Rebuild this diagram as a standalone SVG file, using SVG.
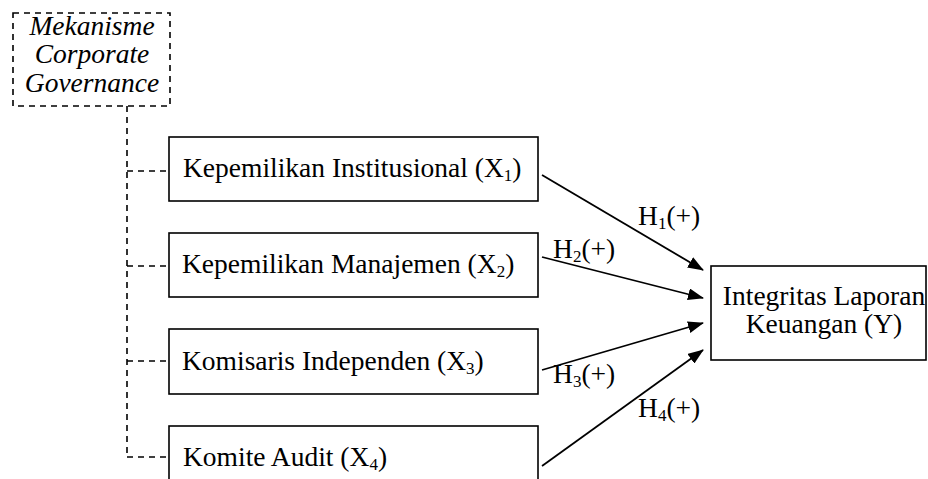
<svg xmlns="http://www.w3.org/2000/svg" width="928" height="479" viewBox="0 0 928 479">
<defs>
<style>
.t{font-family:"Liberation Serif","Times New Roman",serif;font-size:27.5px;fill:#000}
.it{font-family:"Liberation Serif","Times New Roman",serif;font-size:27.5px;font-style:italic;fill:#000}
.box{fill:#fff;stroke:#000;stroke-width:1.6}
.dash{fill:none;stroke:#000;stroke-width:1.6;stroke-dasharray:6,5}
.arr{fill:none;stroke:#000;stroke-width:1.8}
.sub{font-size:17px}
</style>
<marker id="ah" markerWidth="16" markerHeight="12" refX="15" refY="6" orient="auto" markerUnits="userSpaceOnUse">
<path d="M0,0 L16,6 L0,12 Z" fill="#000"/>
</marker>
</defs>
<rect width="928" height="479" fill="#fff"/>
<g id="mekanisme">
<rect class="dash" x="13" y="13" width="157" height="93"/>
<text class="it" x="92" y="35" text-anchor="middle">Mekanisme</text>
<text class="it" x="92" y="63" text-anchor="middle">Corporate</text>
<text class="it" x="92" y="92" text-anchor="middle">Governance</text>
</g>
<g id="connectors">
<path class="dash" d="M127,106 V458"/>
<path class="dash" d="M127,171 H169 M127,266 H169 M127,361 H169 M127,457 H169"/>
<line class="arr" x1="542" y1="175" x2="703" y2="270" marker-end="url(#ah)"/>
<line class="arr" x1="542" y1="257" x2="703" y2="298" marker-end="url(#ah)"/>
<line class="arr" x1="542" y1="370" x2="703" y2="323" marker-end="url(#ah)"/>
<line class="arr" x1="542" y1="466" x2="703" y2="350" marker-end="url(#ah)"/>
<text class="t" x="638" y="225">H<tspan class="sub" dy="4">1</tspan><tspan dy="-4">(+)</tspan></text>
<text class="t" x="553" y="258">H<tspan class="sub" dy="4">2</tspan><tspan dy="-4">(+)</tspan></text>
<text class="t" x="553" y="383">H<tspan class="sub" dy="4">3</tspan><tspan dy="-4">(+)</tspan></text>
<text class="t" x="638" y="417">H<tspan class="sub" dy="4">4</tspan><tspan dy="-4">(+)</tspan></text>
</g>
<g id="x1">
<rect class="box" x="169" y="137" width="369" height="64"/>
<text class="t" x="183" y="177">Kepemilikan Institusional (X<tspan class="sub" dy="4">1</tspan><tspan dy="-4">)</tspan></text>
</g>
<g id="x2">
<rect class="box" x="169" y="233" width="369" height="64"/>
<text class="t" x="182" y="273">Kepemilikan Manajemen (X<tspan class="sub" dy="4">2</tspan><tspan dy="-4">)</tspan></text>
</g>
<g id="x3">
<rect class="box" x="169" y="329" width="369" height="65"/>
<text class="t" x="182" y="370">Komisaris Independen (X<tspan class="sub" dy="4">3</tspan><tspan dy="-4">)</tspan></text>
</g>
<g id="x4">
<rect class="box" x="169" y="426" width="369" height="65"/>
<text class="t" x="183" y="466">Komite Audit (X<tspan class="sub" dy="4">4</tspan><tspan dy="-4">)</tspan></text>
</g>
<g id="y">
<rect class="box" x="711" y="266" width="215" height="94"/>
<text class="t" x="824" y="305" text-anchor="middle">Integritas Laporan</text>
<text class="t" x="824" y="333" text-anchor="middle">Keuangan (Y)</text>
</g>
</svg>
